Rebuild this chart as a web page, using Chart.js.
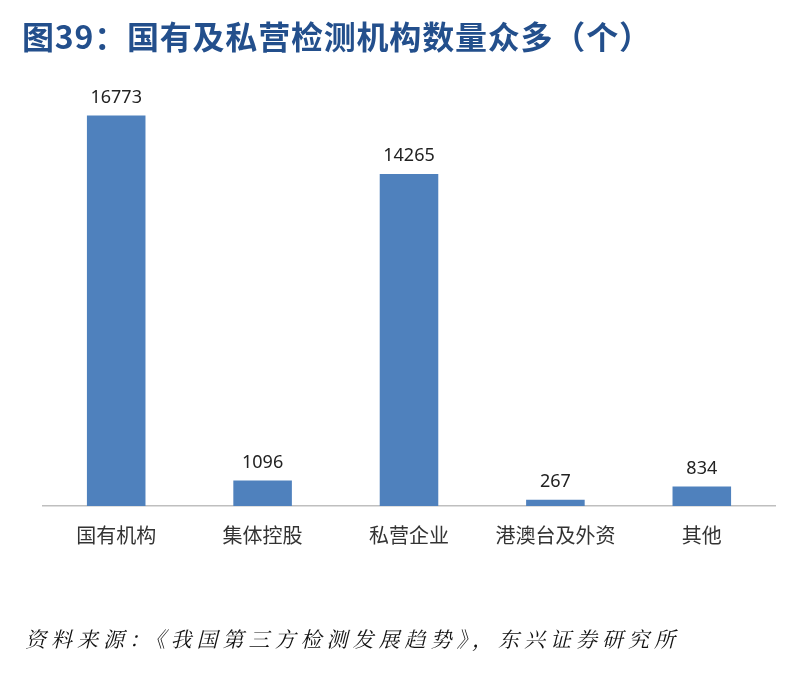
<!DOCTYPE html>
<html>
<head>
<meta charset="utf-8">
<script src="https://cdn.jsdelivr.net/npm/chart.js@4"></script>
<style>
  html, body { margin: 0; padding: 0; background: #fff; }
  #page { position: relative; width: 796px; height: 691px; overflow: hidden; }
  #title { position: absolute; left: 22px; top: 12px; font: bold 32px 'Noto Sans CJK SC', sans-serif; color: #234f8c; letter-spacing: 0.8px; white-space: nowrap; }
  #source { position: absolute; left: 25px; top: 623px; font: italic 21px 'Noto Serif CJK SC', 'Noto Sans CJK SC', serif; color: #111; letter-spacing: 5px; white-space: nowrap; }
  #wrap { position: absolute; left: 0; top: 0; width: 796px; height: 691px; }
</style>
</head>
<body>
<div id="page">
  <div id="wrap"><canvas id="chart"></canvas></div>
  <div id="title">图39：国有及私营检测机构数量众多（个）</div>
  <div id="source">资料来源：《我国第三方检测发展趋势》，东兴证券研究所</div>
</div>
<script>
// 检测机构数量（个）
const categories = ['国有机构', '集体控股', '私营企业', '港澳台及外资', '其他'];
const counts = [16773, 1096, 14265, 267, 834];

const BAR = '#4f81bd', INK = '#222', AXIS = '#bfbfbf';

const valueLabels = {
  id: 'valueLabels',
  afterDatasetsDraw(chart) {
    const { ctx } = chart;
    const meta = chart.getDatasetMeta(0);
    ctx.save();
    ctx.font = "18px 'Noto Sans', 'DejaVu Sans', sans-serif";
    ctx.fillStyle = INK;
    ctx.textAlign = 'center';
    ctx.textBaseline = 'bottom';
    meta.data.forEach((bar, i) => ctx.fillText(String(counts[i]), bar.x, bar.y - 9));
    ctx.restore();
  },
};

new Chart(document.getElementById('chart'), {
  type: 'bar',
  data: { labels: categories, datasets: [{ data: counts, backgroundColor: BAR, borderWidth: 0, categoryPercentage: 1, barPercentage: 0.4 }] },
  options: {
    responsive: true, maintainAspectRatio: false, animation: false,
    layout: { padding: { left: 43, right: 21, top: 87, bottom: 125 } },
    plugins: { legend: { display: false }, tooltip: { enabled: false } },
    scales: {
      y: { display: false, min: 0, max: 18000 },
      x: {
        grid: { display: false, drawTicks: false },
        border: { color: AXIS, width: 1.5 },
        ticks: { color: '#333', padding: 17, font: { family: "'Noto Sans CJK SC', sans-serif", size: 20 } },
        afterFit(scale) { scale.height = 60; },
      },
    },
  },
  plugins: [valueLabels],
});
</script>
</body>
</html>
